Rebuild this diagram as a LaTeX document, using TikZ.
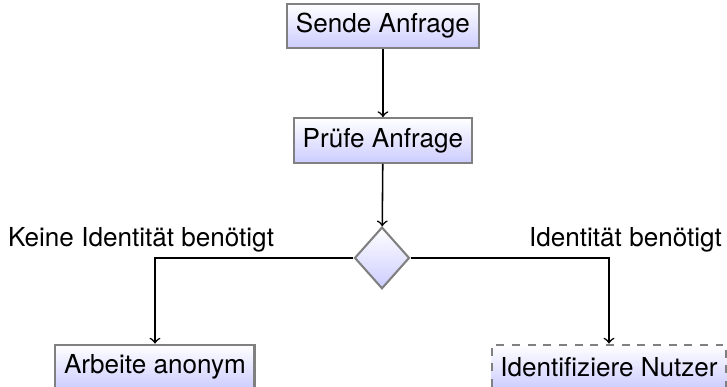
\documentclass[tikz,border=0pt]{standalone}
\usepackage{fontspec}
\setmainfont{TeX Gyre Heros}
\usetikzlibrary{shapes.geometric}

\tikzset{
  action/.style={rectangle,draw=gray,line width=0.8pt,top color=white,
    bottom color=blue!20,minimum height=0.6cm,inner sep=3.3pt},
  decision/.style={diamond,draw=gray,line width=0.8pt,top color=white,
    bottom color=blue!20,minimum width=0.74cm,minimum height=0.83cm,inner sep=0pt},
  pending/.style={action,dashed},
  flow/.style={->,line width=0.6pt}
}

\begin{document}
\begin{tikzpicture}
  \useasboundingbox (0,0) rectangle (9.79,5.21);

  \node[action] (sende) at (5.157,4.861) {Sende Anfrage};
  \node[action] (pruefe) at (5.157,3.319) {Prüfe Anfrage};
  \node[decision] (check) at (5.144,1.737) {};

  \node[action] (anonym) at (2.087,0.269) {Arbeite anonym};
  \node[pending] (nutzer) at (8.201,0.269) {Identifiziere Nutzer};

  \node[anchor=base] (keine) at (1.899,1.885) {Keine Identität benötigt};
  \node[anchor=base] (ident) at (8.423,1.885) {Identität benötigt};

  \draw[flow] (sende) -- (pruefe);
  \draw[flow] (pruefe) -- (check);
  \draw[flow] (check.west) -| (anonym.north);
  \draw[flow] (check.east) -| (nutzer.north);
\end{tikzpicture}
\end{document}
